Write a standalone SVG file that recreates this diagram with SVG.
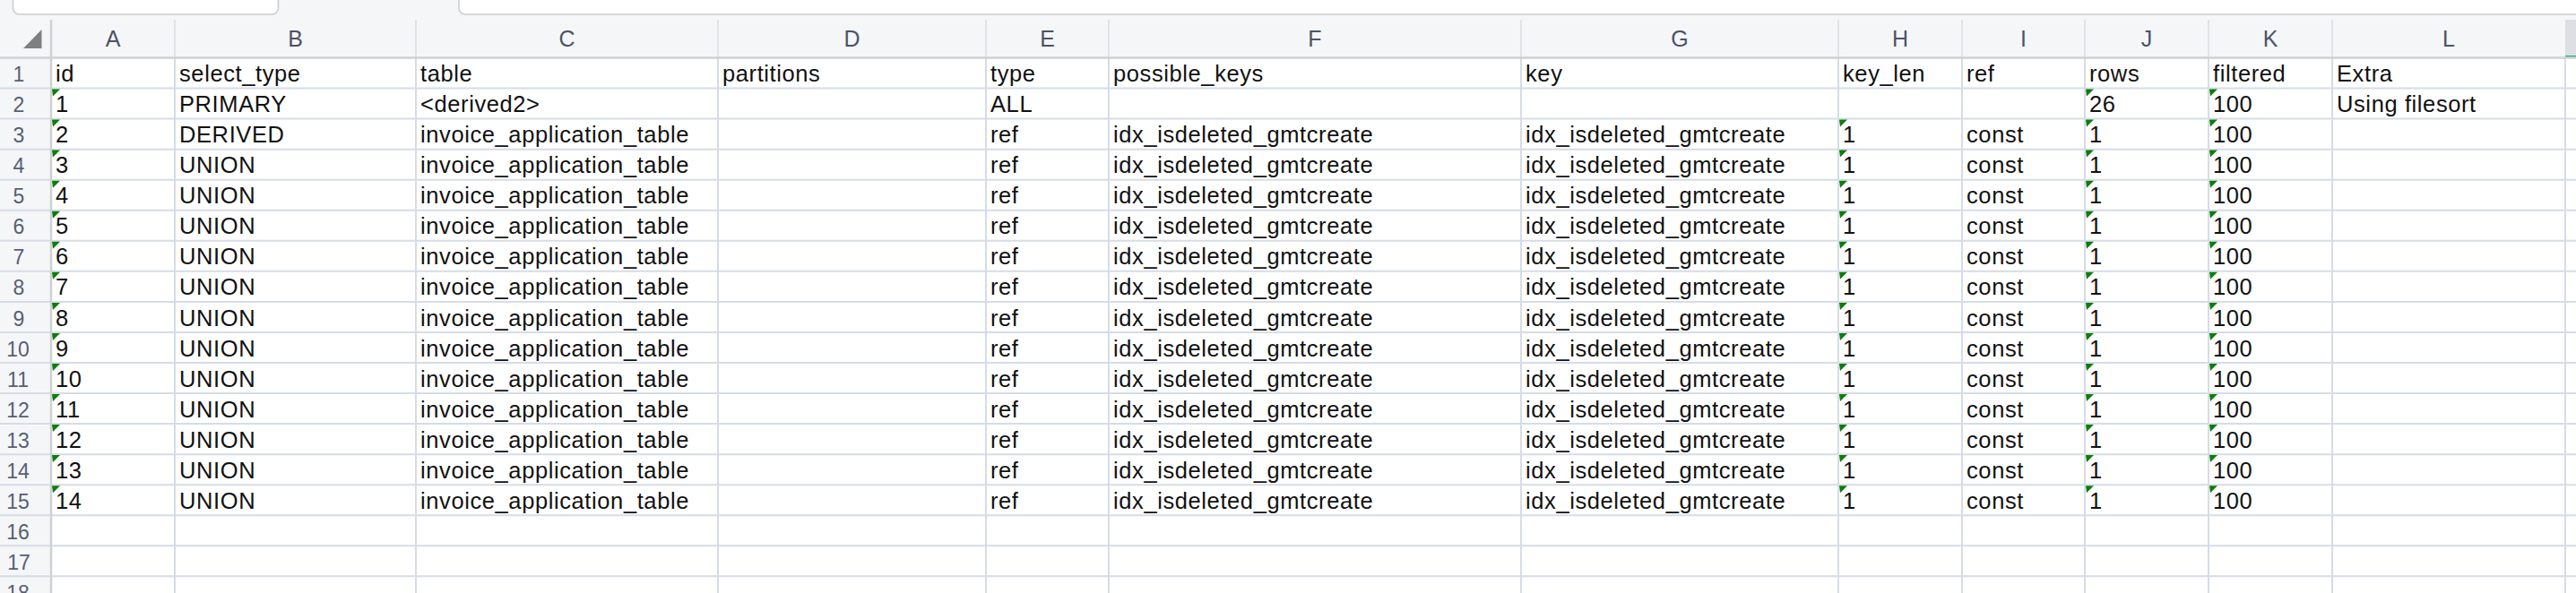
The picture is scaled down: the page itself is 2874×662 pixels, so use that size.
<svg xmlns="http://www.w3.org/2000/svg" width="2874" height="662" viewBox="0 0 2874 662">
<style>
.bg{fill:#ffffff}
.hdr{fill:#f5f6f8}
.grid{stroke:#d6dce7;stroke-width:2;fill:none}
.hsep{stroke:#e1e3e7;stroke-width:2}
.frame{stroke:#cfd1d5;stroke-width:2.5}
.box{fill:#ffffff;stroke:#c9cbcf;stroke-width:1.5}
.col{font-family:"Liberation Sans",Arial,sans-serif;font-size:25px;fill:#4b5467;text-anchor:middle}
.rn{font-family:"Liberation Sans",Arial,sans-serif;font-size:23px;fill:#566073;text-anchor:middle}
.c{font-family:"Liberation Sans",Arial,sans-serif;font-size:25.5px;letter-spacing:0.6px;fill:#111111}
.tri{fill:#0b7d0b}
</style>
<defs>
<polygon id="flag" class="tri" points="0,0 9,0 1,8"/>
</defs>
<rect class="bg" x="0" y="0" width="2874" height="662"/>
<g id="toolbar">
<rect class="hdr" x="0" y="0" width="2874" height="64"/>
<rect class="box" x="14.5" y="-12" width="296" height="28" rx="7"/>
<rect class="box" x="512" y="-12" width="2400" height="28" rx="7"/>
</g>
<g id="column-headers">
<line class="hsep" x1="195" y1="22" x2="195" y2="64"/>
<line class="hsep" x1="464" y1="22" x2="464" y2="64"/>
<line class="hsep" x1="801" y1="22" x2="801" y2="64"/>
<line class="hsep" x1="1100" y1="22" x2="1100" y2="64"/>
<line class="hsep" x1="1237" y1="22" x2="1237" y2="64"/>
<line class="hsep" x1="1697" y1="22" x2="1697" y2="64"/>
<line class="hsep" x1="2051" y1="22" x2="2051" y2="64"/>
<line class="hsep" x1="2189" y1="22" x2="2189" y2="64"/>
<line class="hsep" x1="2326" y1="22" x2="2326" y2="64"/>
<line class="hsep" x1="2464" y1="22" x2="2464" y2="64"/>
<line class="hsep" x1="2602" y1="22" x2="2602" y2="64"/>
<rect x="2862" y="22" width="12" height="41" fill="#dcdfe4"/>
<rect x="2862" y="62" width="12" height="3" fill="#2bb673"/>
<polygon points="26,54 46.5,33 46.5,54" fill="#808080"/>
<text class="col" x="126" y="52">A</text>
<text class="col" x="329.5" y="52">B</text>
<text class="col" x="632.5" y="52">C</text>
<text class="col" x="950.5" y="52">D</text>
<text class="col" x="1168.5" y="52">E</text>
<text class="col" x="1467" y="52">F</text>
<text class="col" x="1874" y="52">G</text>
<text class="col" x="2120" y="52">H</text>
<text class="col" x="2257.5" y="52">I</text>
<text class="col" x="2395" y="52">J</text>
<text class="col" x="2533" y="52">K</text>
<text class="col" x="2732" y="52">L</text>
</g>
<g id="row-headers">
<rect class="hdr" x="0" y="64" width="57" height="598"/>
<text class="rn" x="21" y="91">1</text>
<text class="rn" x="21" y="125">2</text>
<text class="rn" x="21" y="159">3</text>
<text class="rn" x="21" y="193">4</text>
<text class="rn" x="21" y="227">5</text>
<text class="rn" x="21" y="261">6</text>
<text class="rn" x="21" y="295">7</text>
<text class="rn" x="21" y="329">8</text>
<text class="rn" x="21" y="364">9</text>
<text class="rn" x="20" y="398">10</text>
<text class="rn" x="20" y="432">11</text>
<text class="rn" x="20" y="466">12</text>
<text class="rn" x="20" y="500">13</text>
<text class="rn" x="20" y="534">14</text>
<text class="rn" x="20" y="568">15</text>
<text class="rn" x="20" y="602">16</text>
<text class="rn" x="21" y="636">17</text>
<text class="rn" x="20" y="670">18</text>
</g>
<g id="grid">
<path class="grid" d="M0 98.55H2874M0 132.6H2874M0 166.65H2874M0 200.7H2874M0 234.75H2874M0 268.8H2874M0 302.85H2874M0 336.9H2874M0 370.95H2874M0 405H2874M0 439.05H2874M0 473.1H2874M0 507.15H2874M0 541.2H2874M0 575.25H2874M0 609.3H2874M0 643.35H2874"/>
<path class="grid" d="M195 65V662M464 65V662M801 65V662M1100 65V662M1237 65V662M1697 65V662M2051 65V662M2189 65V662M2326 65V662M2464 65V662M2602 65V662M2862 65V662"/>
<line class="frame" x1="0" y1="64.5" x2="2874" y2="64.5"/>
<line class="frame" x1="57" y1="22" x2="57" y2="662"/>
</g>
<g id="flags">
<use href="#flag" x="58" y="99.5"/><use href="#flag" x="2327" y="99.5"/><use href="#flag" x="2465" y="99.5"/>
<use href="#flag" x="58" y="133.6"/><use href="#flag" x="2052" y="133.6"/><use href="#flag" x="2327" y="133.6"/><use href="#flag" x="2465" y="133.6"/>
<use href="#flag" x="58" y="167.6"/><use href="#flag" x="2052" y="167.6"/><use href="#flag" x="2327" y="167.6"/><use href="#flag" x="2465" y="167.6"/>
<use href="#flag" x="58" y="201.7"/><use href="#flag" x="2052" y="201.7"/><use href="#flag" x="2327" y="201.7"/><use href="#flag" x="2465" y="201.7"/>
<use href="#flag" x="58" y="235.7"/><use href="#flag" x="2052" y="235.7"/><use href="#flag" x="2327" y="235.7"/><use href="#flag" x="2465" y="235.7"/>
<use href="#flag" x="58" y="269.8"/><use href="#flag" x="2052" y="269.8"/><use href="#flag" x="2327" y="269.8"/><use href="#flag" x="2465" y="269.8"/>
<use href="#flag" x="58" y="303.8"/><use href="#flag" x="2052" y="303.8"/><use href="#flag" x="2327" y="303.8"/><use href="#flag" x="2465" y="303.8"/>
<use href="#flag" x="58" y="337.9"/><use href="#flag" x="2052" y="337.9"/><use href="#flag" x="2327" y="337.9"/><use href="#flag" x="2465" y="337.9"/>
<use href="#flag" x="58" y="371.9"/><use href="#flag" x="2052" y="371.9"/><use href="#flag" x="2327" y="371.9"/><use href="#flag" x="2465" y="371.9"/>
<use href="#flag" x="58" y="406"/><use href="#flag" x="2052" y="406"/><use href="#flag" x="2327" y="406"/><use href="#flag" x="2465" y="406"/>
<use href="#flag" x="58" y="440"/><use href="#flag" x="2052" y="440"/><use href="#flag" x="2327" y="440"/><use href="#flag" x="2465" y="440"/>
<use href="#flag" x="58" y="474.1"/><use href="#flag" x="2052" y="474.1"/><use href="#flag" x="2327" y="474.1"/><use href="#flag" x="2465" y="474.1"/>
<use href="#flag" x="58" y="508.1"/><use href="#flag" x="2052" y="508.1"/><use href="#flag" x="2327" y="508.1"/><use href="#flag" x="2465" y="508.1"/>
<use href="#flag" x="58" y="542.2"/><use href="#flag" x="2052" y="542.2"/><use href="#flag" x="2327" y="542.2"/><use href="#flag" x="2465" y="542.2"/>
</g>
<g id="row-1">
<text class="c" x="62" y="91">id</text><text class="c" x="200" y="91">select_type</text><text class="c" x="469" y="91">table</text><text class="c" x="806" y="91">partitions</text><text class="c" x="1105" y="91">type</text><text class="c" x="1242" y="91">possible_keys</text><text class="c" x="1702" y="91">key</text><text class="c" x="2056" y="91">key_len</text><text class="c" x="2194" y="91">ref</text><text class="c" x="2331" y="91">rows</text><text class="c" x="2469" y="91">filtered</text><text class="c" x="2607" y="91">Extra</text>
</g>
<g id="row-2">
<text class="c" x="62" y="125">1</text><text class="c" x="200" y="125" letter-spacing="-0.6">PRIMARY</text><text class="c" x="469" y="125">&lt;derived2&gt;</text><text class="c" x="1105" y="125">ALL</text><text class="c" x="2331" y="125">26</text><text class="c" x="2469" y="125">100</text><text class="c" x="2607" y="125">Using filesort</text>
</g>
<g id="row-3">
<text class="c" x="62" y="159">2</text><text class="c" x="200" y="159">DERIVED</text><text class="c" x="469" y="159">invoice_application_table</text><text class="c" x="1105" y="159">ref</text><text class="c" x="1242" y="159">idx_isdeleted_gmtcreate</text><text class="c" x="1702" y="159">idx_isdeleted_gmtcreate</text><text class="c" x="2056" y="159">1</text><text class="c" x="2194" y="159">const</text><text class="c" x="2331" y="159">1</text><text class="c" x="2469" y="159">100</text>
</g>
<g id="row-4">
<text class="c" x="62" y="193">3</text><text class="c" x="200" y="193">UNION</text><text class="c" x="469" y="193">invoice_application_table</text><text class="c" x="1105" y="193">ref</text><text class="c" x="1242" y="193">idx_isdeleted_gmtcreate</text><text class="c" x="1702" y="193">idx_isdeleted_gmtcreate</text><text class="c" x="2056" y="193">1</text><text class="c" x="2194" y="193">const</text><text class="c" x="2331" y="193">1</text><text class="c" x="2469" y="193">100</text>
</g>
<g id="row-5">
<text class="c" x="62" y="227">4</text><text class="c" x="200" y="227">UNION</text><text class="c" x="469" y="227">invoice_application_table</text><text class="c" x="1105" y="227">ref</text><text class="c" x="1242" y="227">idx_isdeleted_gmtcreate</text><text class="c" x="1702" y="227">idx_isdeleted_gmtcreate</text><text class="c" x="2056" y="227">1</text><text class="c" x="2194" y="227">const</text><text class="c" x="2331" y="227">1</text><text class="c" x="2469" y="227">100</text>
</g>
<g id="row-6">
<text class="c" x="62" y="261">5</text><text class="c" x="200" y="261">UNION</text><text class="c" x="469" y="261">invoice_application_table</text><text class="c" x="1105" y="261">ref</text><text class="c" x="1242" y="261">idx_isdeleted_gmtcreate</text><text class="c" x="1702" y="261">idx_isdeleted_gmtcreate</text><text class="c" x="2056" y="261">1</text><text class="c" x="2194" y="261">const</text><text class="c" x="2331" y="261">1</text><text class="c" x="2469" y="261">100</text>
</g>
<g id="row-7">
<text class="c" x="62" y="295">6</text><text class="c" x="200" y="295">UNION</text><text class="c" x="469" y="295">invoice_application_table</text><text class="c" x="1105" y="295">ref</text><text class="c" x="1242" y="295">idx_isdeleted_gmtcreate</text><text class="c" x="1702" y="295">idx_isdeleted_gmtcreate</text><text class="c" x="2056" y="295">1</text><text class="c" x="2194" y="295">const</text><text class="c" x="2331" y="295">1</text><text class="c" x="2469" y="295">100</text>
</g>
<g id="row-8">
<text class="c" x="62" y="329">7</text><text class="c" x="200" y="329">UNION</text><text class="c" x="469" y="329">invoice_application_table</text><text class="c" x="1105" y="329">ref</text><text class="c" x="1242" y="329">idx_isdeleted_gmtcreate</text><text class="c" x="1702" y="329">idx_isdeleted_gmtcreate</text><text class="c" x="2056" y="329">1</text><text class="c" x="2194" y="329">const</text><text class="c" x="2331" y="329">1</text><text class="c" x="2469" y="329">100</text>
</g>
<g id="row-9">
<text class="c" x="62" y="364">8</text><text class="c" x="200" y="364">UNION</text><text class="c" x="469" y="364">invoice_application_table</text><text class="c" x="1105" y="364">ref</text><text class="c" x="1242" y="364">idx_isdeleted_gmtcreate</text><text class="c" x="1702" y="364">idx_isdeleted_gmtcreate</text><text class="c" x="2056" y="364">1</text><text class="c" x="2194" y="364">const</text><text class="c" x="2331" y="364">1</text><text class="c" x="2469" y="364">100</text>
</g>
<g id="row-10">
<text class="c" x="62" y="398">9</text><text class="c" x="200" y="398">UNION</text><text class="c" x="469" y="398">invoice_application_table</text><text class="c" x="1105" y="398">ref</text><text class="c" x="1242" y="398">idx_isdeleted_gmtcreate</text><text class="c" x="1702" y="398">idx_isdeleted_gmtcreate</text><text class="c" x="2056" y="398">1</text><text class="c" x="2194" y="398">const</text><text class="c" x="2331" y="398">1</text><text class="c" x="2469" y="398">100</text>
</g>
<g id="row-11">
<text class="c" x="62" y="432">10</text><text class="c" x="200" y="432">UNION</text><text class="c" x="469" y="432">invoice_application_table</text><text class="c" x="1105" y="432">ref</text><text class="c" x="1242" y="432">idx_isdeleted_gmtcreate</text><text class="c" x="1702" y="432">idx_isdeleted_gmtcreate</text><text class="c" x="2056" y="432">1</text><text class="c" x="2194" y="432">const</text><text class="c" x="2331" y="432">1</text><text class="c" x="2469" y="432">100</text>
</g>
<g id="row-12">
<text class="c" x="62" y="466">11</text><text class="c" x="200" y="466">UNION</text><text class="c" x="469" y="466">invoice_application_table</text><text class="c" x="1105" y="466">ref</text><text class="c" x="1242" y="466">idx_isdeleted_gmtcreate</text><text class="c" x="1702" y="466">idx_isdeleted_gmtcreate</text><text class="c" x="2056" y="466">1</text><text class="c" x="2194" y="466">const</text><text class="c" x="2331" y="466">1</text><text class="c" x="2469" y="466">100</text>
</g>
<g id="row-13">
<text class="c" x="62" y="500">12</text><text class="c" x="200" y="500">UNION</text><text class="c" x="469" y="500">invoice_application_table</text><text class="c" x="1105" y="500">ref</text><text class="c" x="1242" y="500">idx_isdeleted_gmtcreate</text><text class="c" x="1702" y="500">idx_isdeleted_gmtcreate</text><text class="c" x="2056" y="500">1</text><text class="c" x="2194" y="500">const</text><text class="c" x="2331" y="500">1</text><text class="c" x="2469" y="500">100</text>
</g>
<g id="row-14">
<text class="c" x="62" y="534">13</text><text class="c" x="200" y="534">UNION</text><text class="c" x="469" y="534">invoice_application_table</text><text class="c" x="1105" y="534">ref</text><text class="c" x="1242" y="534">idx_isdeleted_gmtcreate</text><text class="c" x="1702" y="534">idx_isdeleted_gmtcreate</text><text class="c" x="2056" y="534">1</text><text class="c" x="2194" y="534">const</text><text class="c" x="2331" y="534">1</text><text class="c" x="2469" y="534">100</text>
</g>
<g id="row-15">
<text class="c" x="62" y="568">14</text><text class="c" x="200" y="568">UNION</text><text class="c" x="469" y="568">invoice_application_table</text><text class="c" x="1105" y="568">ref</text><text class="c" x="1242" y="568">idx_isdeleted_gmtcreate</text><text class="c" x="1702" y="568">idx_isdeleted_gmtcreate</text><text class="c" x="2056" y="568">1</text><text class="c" x="2194" y="568">const</text><text class="c" x="2331" y="568">1</text><text class="c" x="2469" y="568">100</text>
</g>
</svg>
